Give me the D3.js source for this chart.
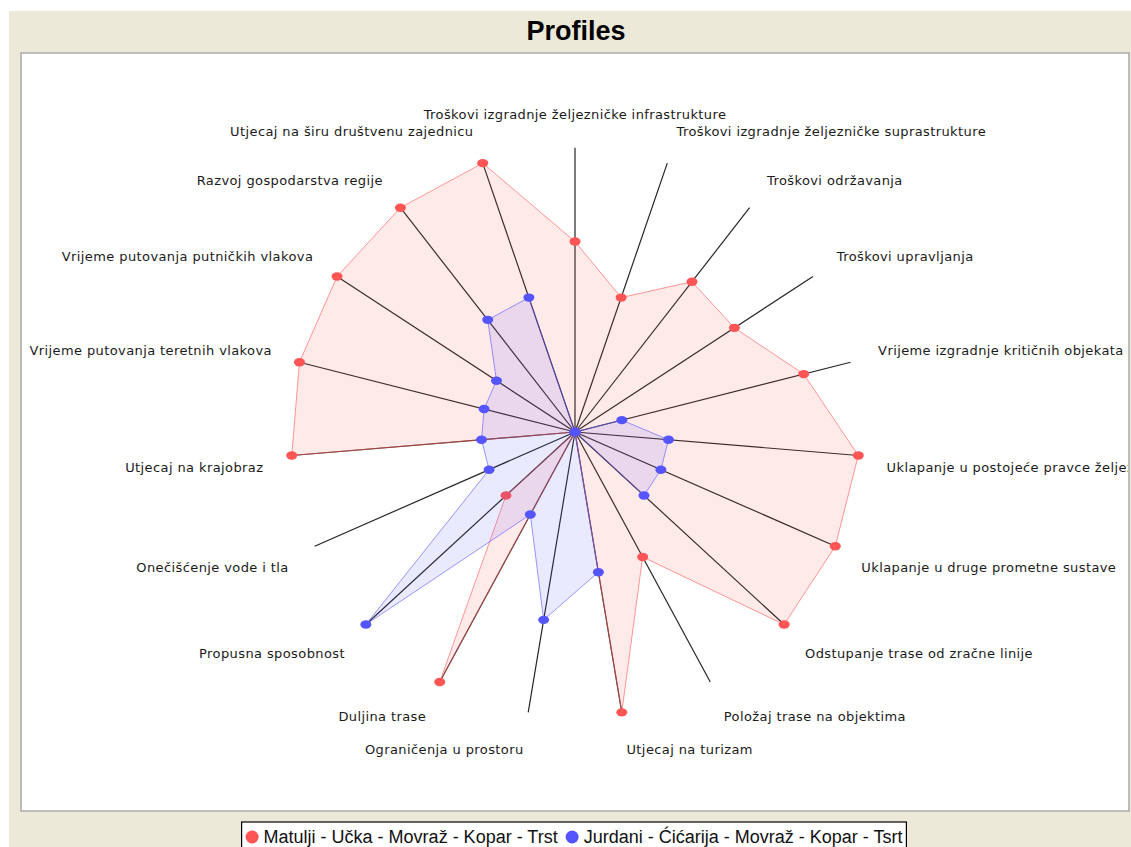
<!DOCTYPE html>
<html>
<head>
<meta charset="utf-8">
<script src="https://cdn.jsdelivr.net/npm/d3@7.9.0/dist/d3.min.js"></script>
<style>
  body { margin: 0; background: #fff; }
  svg { display: block; }
</style>
</head>
<body>
<svg id="chart" width="1131" height="847"></svg>
<script>
// categories go clockwise starting from the top
const categories = [
  'Troškovi izgradnje željezničke infrastrukture',
  'Troškovi izgradnje željezničke suprastrukture',
  'Troškovi održavanja',
  'Troškovi upravljanja',
  'Vrijeme izgradnje kritičnih objekata',
  'Uklapanje u postojeće pravce željezničkih pruga',
  'Uklapanje u druge prometne sustave',
  'Odstupanje trase od zračne linije',
  'Položaj trase na objektima',
  'Utjecaj na turizam',
  'Ograničenja u prostoru',
  'Duljina trase',
  'Propusna sposobnost',
  'Onečišćenje vode i tla',
  'Utjecaj na krajobraz',
  'Vrijeme putovanja teretnih vlakova',
  'Vrijeme putovanja putničkih vlakova',
  'Razvoj gospodarstva regije',
  'Utjecaj na širu društvenu zajednicu'
];

const seriesNames = [
  'Matulji - Učka - Movraž - Kopar - Trst',
  'Jurdani - Ćićarija - Movraž - Kopar - Tsrt'
];

const matuljiValues = [0.67, 0.5, 0.67, 0.67, 0.83, 1, 1, 1, 0.5, 1, 0, 1, 0.33, 0, 1, 1, 1, 1, 1];
const jurdaniValues = [0, 0, 0, 0, 0.17, 0.33, 0.33, 0.33, 0, 0.5, 0.67, 0.33, 1, 0.33, 0.33, 0.33, 0.33, 0.5, 0.5];

const seriesColors = ['#ff5555', '#5555ff'];
const chartTitle = 'Profiles';

const allSeries = [matuljiValues, jurdaniValues];

const svg = d3.select('#chart');
const W = 1131, H = 847;

// background panel (java-ish beige)
svg.append('rect').attr('x', 9).attr('y', 11).attr('width', W - 9).attr('height', H - 11).attr('fill', '#ece9d8');

svg.append('text')
  .attr('x', 576).attr('y', 40)
  .attr('text-anchor', 'middle')
  .attr('font-family', 'Liberation Sans, Arial, sans-serif')
  .attr('font-weight', 'bold')
  .attr('font-size', 27)
  .attr('fill', '#000')
  .text(chartTitle);

// plot area
const plot = { x: 21, y: 53, w: 1108, h: 758 };
svg.append('rect')
  .attr('x', plot.x).attr('y', plot.y).attr('width', plot.w).attr('height', plot.h)
  .attr('fill', '#fff').attr('stroke', '#a9a9a9').attr('stroke-width', 1.5);

svg.append('clipPath').attr('id', 'plotclip')
  .append('rect').attr('x', plot.x).attr('y', plot.y).attr('width', plot.w - 1).attr('height', plot.h);

const cx = plot.x + plot.w / 2;
const cy = plot.y + plot.h / 2;
const R = Math.min(plot.w, plot.h) * 0.75 / 2;

const n = categories.length;
const angle = d3.scaleLinear().domain([0, n]).range([0, 2 * Math.PI]);
const maxValue = d3.max(allSeries, s => d3.max(s));
const r = d3.scaleLinear().domain([0, maxValue]).range([0, R]);

const g = svg.append('g').attr('clip-path', 'url(#plotclip)');
const web = g.append('g').attr('transform', `translate(${cx},${cy})`);

// axes
web.selectAll('line.axis')
  .data(categories)
  .join('line')
  .attr('class', 'axis')
  .attr('x1', 0).attr('y1', 0)
  .attr('x2', (d, i) => r(maxValue) * Math.sin(angle(i)))
  .attr('y2', (d, i) => -r(maxValue) * Math.cos(angle(i)))
  .attr('stroke', '#262626')
  .attr('stroke-width', 1.2);

// axis labels - jfreechart style placement (10% gap past the end)
const labelGap = 0.1;
const labelH = 14;
web.selectAll('text.lbl')
  .data(categories)
  .join('text')
  .attr('class', 'lbl')
  .attr('font-family', 'DejaVu Sans, Verdana, sans-serif')
  .attr('font-size', 13)
  .attr('letter-spacing', 0.4)
  .attr('fill', '#1a1a1a')
  .each(function (d, i) {
    const a = angle(i);
    const lx = R * (1 + labelGap) * Math.sin(a);
    let ly = -R * (1 + labelGap) * Math.cos(a);
    let anchor = 'start';
    if (Math.abs(lx) < 0.5) anchor = 'middle';
    else if (lx < 0) anchor = 'end';
    if (ly > 0.5) ly += labelH;
    d3.select(this).attr('x', lx).attr('y', ly).attr('text-anchor', anchor).text(d);
  });

// series polygons + markers
const radial = d3.lineRadial()
  .angle((d, i) => angle(i))
  .radius(d => r(d))
  .curve(d3.curveLinearClosed);

allSeries.forEach((vals, s) => {
  web.append('path')
    .attr('d', radial(vals))
    .attr('fill', seriesColors[s])
    .attr('fill-opacity', 0.12)
    .attr('stroke', seriesColors[s])
    .attr('stroke-opacity', 0.6)
    .attr('stroke-width', 1);

  web.selectAll(`ellipse.s${s}`)
    .data(vals)
    .join('ellipse')
    .attr('class', `s${s}`)
    .attr('cx', (d, i) => r(d) * Math.sin(angle(i)))
    .attr('cy', (d, i) => -r(d) * Math.cos(angle(i)))
    .attr('rx', 5.5).attr('ry', 4.2)
    .attr('fill', seriesColors[s]);
});

// legend
const legend = svg.append('g');
const legendFont = { family: 'Liberation Sans, Arial, sans-serif', size: 18 };
let lxPos = 0;
seriesNames.forEach((name, s) => {
  const it = legend.append('g');
  it.append('circle').attr('cx', 6.5).attr('cy', -6).attr('r', 6.5).attr('fill', seriesColors[s]);
  const t = it.append('text')
    .attr('x', 18).attr('y', 0)
    .attr('font-family', legendFont.family)
    .attr('font-size', legendFont.size)
    .attr('fill', '#111')
    .text(name);
  const w = 18 + t.node().getComputedTextLength();
  it.attr('transform', `translate(${lxPos},0)`);
  lxPos += w + 8;
});
const legendW = lxPos - 8 + 8;
const legendX = cx - legendW / 2 - 1;
legend.insert('rect', ':first-child')
  .attr('x', -4).attr('y', -21)
  .attr('width', legendW).attr('height', 34)
  .attr('fill', '#fff').attr('stroke', '#000').attr('stroke-width', 1.2);
legend.attr('transform', `translate(${legendX + 4},843)`);
</script>
</body>
</html>
